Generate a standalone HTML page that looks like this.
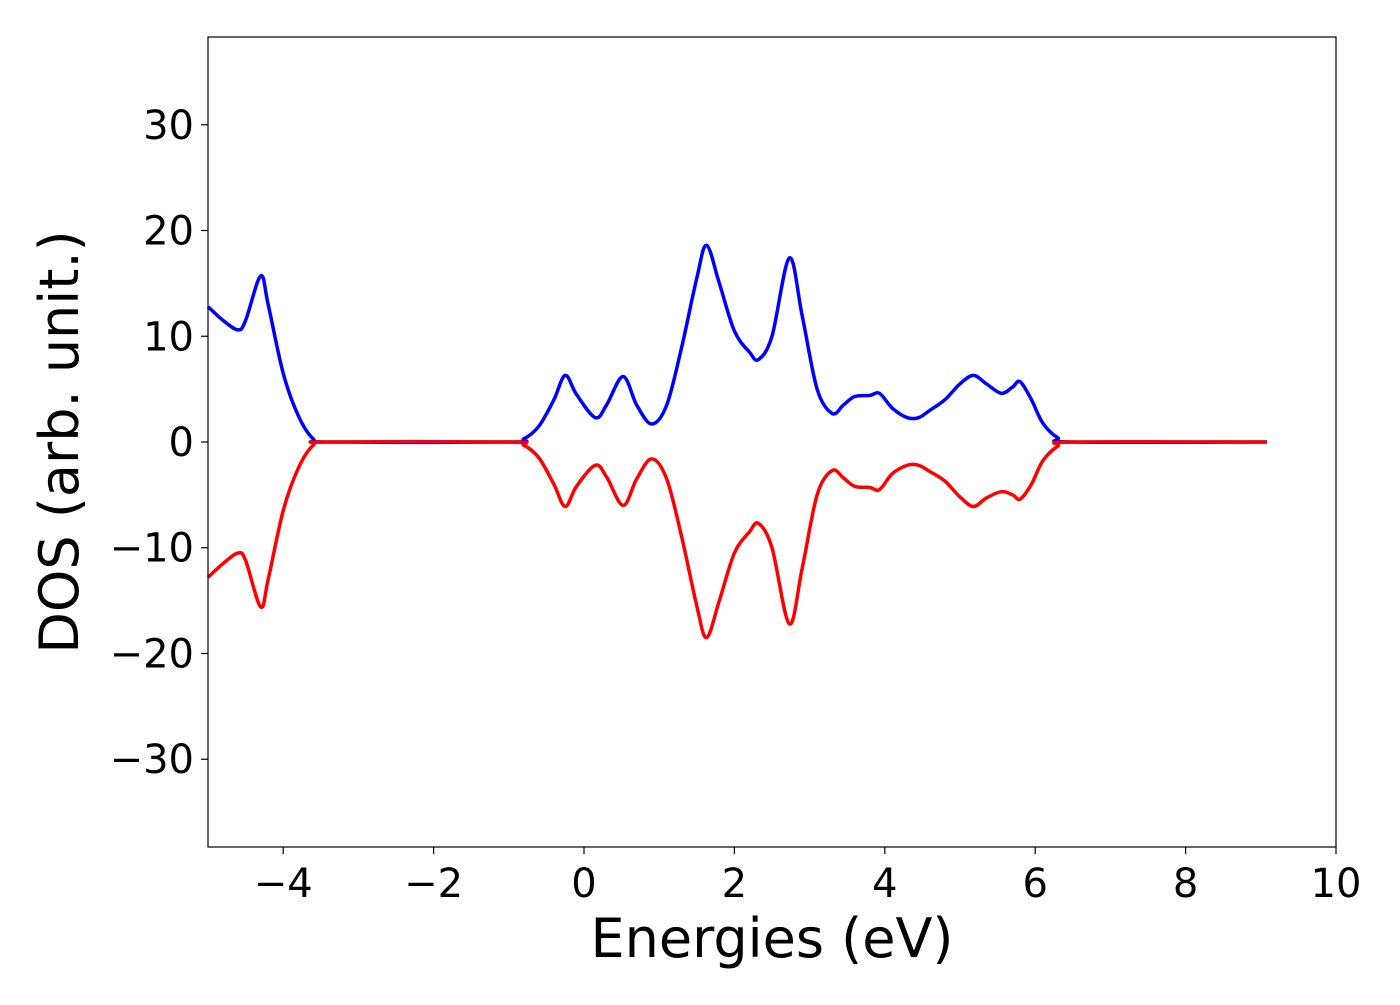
<!DOCTYPE html>
<html><head><meta charset="utf-8"><style>
body{margin:0;background:#fff;}
svg text{font-family:"DejaVu Sans","Liberation Sans",sans-serif;fill:#000;}
</style></head><body>
<svg id="chart" width="1400" height="1000" xmlns="http://www.w3.org/2000/svg">
<rect x="0" y="0" width="1400" height="1000" fill="#fff"/>
<g id="ticks"></g>
<g id="series"></g>
<rect x="208" y="37" width="1128" height="810" fill="none" stroke="#000" stroke-width="1.2"/>
<text x="772" y="957" font-size="54" text-anchor="middle">Energies (eV)</text>
<text transform="translate(78,442) rotate(-90)" font-size="54" text-anchor="middle">DOS (arb. unit.)</text>
</svg>
<script>
const xTicks=[-4,-2,0,2,4,6,8,10];
const yTicks=[-30,-20,-10,0,10,20,30];
const energies=[-5,-4.8,-4.6,-4.5,-4.3,-4.2,-4.0,-3.8,-3.6,-3.4,-1.0,-0.8,-0.6,-0.4,-0.25,-0.1,0.15,0.3,0.52,0.7,0.9,1.1,1.3,1.5,1.63,1.8,2.0,2.2,2.32,2.5,2.73,2.9,3.1,3.3,3.45,3.6,3.8,3.93,4.1,4.3,4.45,4.6,4.8,5.0,5.18,5.35,5.55,5.7,5.8,5.95,6.1,6.3,6.5,9.08];
const dosUp=[12.8,11.5,10.6,11.5,15.7,13,6.5,2.5,0.3,0,0,0.3,1.5,4,6.3,4.5,2.3,3.5,6.2,3.5,1.7,3.5,9,15.5,18.6,15,10.5,8.5,7.8,10,17.4,12,5,2.7,3.5,4.3,4.4,4.6,3.2,2.3,2.3,3,4,5.5,6.3,5.5,4.6,5.2,5.7,4,1.8,0.4,0,0];
const dosDown=[-12.8,-11.5,-10.5,-11.2,-15.6,-13,-6.5,-2.5,-0.3,0,0,-0.3,-1.5,-4,-6.1,-4.2,-2.2,-3.3,-6.0,-3.5,-1.6,-3.5,-9,-15.5,-18.5,-15,-10.5,-8.5,-7.7,-10,-17.2,-12,-5,-2.7,-3.4,-4.2,-4.3,-4.5,-3.0,-2.2,-2.2,-2.8,-3.7,-5.2,-6.1,-5.3,-4.7,-5.0,-5.4,-4,-1.8,-0.4,0,0];
const X0=208,X1=1336,Y0=847,Y1=37,xmin=-5,xmax=10,ymin=-38.3,ymax=38.3;
const sx=v=>X0+(v-xmin)/(xmax-xmin)*(X1-X0);
const sy=v=>Y0-(v-ymin)/(ymax-ymin)*(Y0-Y1);
const NS='http://www.w3.org/2000/svg';
const tg=document.getElementById('ticks');
xTicks.forEach(t=>{
  const l=document.createElementNS(NS,'line');
  
  
  l.setAttribute('x1',sx(t));l.setAttribute('x2',sx(t));l.setAttribute('y1',Y0);l.setAttribute('y2',Y0+7);l.setAttribute('stroke','#000');l.setAttribute('stroke-width','1.2');
  tg.appendChild(l);
  const tx=document.createElementNS(NS,'text');
  
  
  tx.setAttribute('x',sx(t));tx.setAttribute('y',Y0+50);tx.setAttribute('font-size','40');tx.setAttribute('text-anchor','middle');
  tx.textContent=(t<0?'\u2212':'')+Math.abs(t);
  tg.appendChild(tx);
});
yTicks.forEach(t=>{
  const l=document.createElementNS(NS,'line');
  
  
  l.setAttribute('x1',X0-7);l.setAttribute('x2',X0);l.setAttribute('y1',sy(t));l.setAttribute('y2',sy(t));l.setAttribute('stroke','#000');l.setAttribute('stroke-width','1.2');
  tg.appendChild(l);
  const tx=document.createElementNS(NS,'text');
  
  
  tx.setAttribute('x',X0-14);tx.setAttribute('y',sy(t)+14);tx.setAttribute('font-size','40');tx.setAttribute('text-anchor','end');
  tx.textContent=(t<0?'\u2212':'')+Math.abs(t);
  tg.appendChild(tx);
});
function pathD(xs,ys){
  const p=xs.map((x,i)=>[sx(x),sy(ys[i])]);
  let d='M'+p[0][0]+','+p[0][1];
  for(let i=0;i<p.length-1;i++){
    const p0=p[i-1]||p[i],p1=p[i],p2=p[i+1],p3=p[i+2]||p2;
    const t=0.5/3;
    const c1=[p1[0]+(p2[0]-p0[0])*t,p1[1]+(p2[1]-p0[1])*t];
    const c2=[p2[0]-(p3[0]-p1[0])*t,p2[1]-(p3[1]-p1[1])*t];
    d+=' C'+c1[0]+','+c1[1]+' '+c2[0]+','+c2[1]+' '+p2[0]+','+p2[1];
  }
  return d;
}
const sg=document.getElementById('series');
[[dosUp,'#0000ff','spin-up-line'],[dosDown,'#ff0000','spin-down-line']].forEach(s=>{
  const p=document.createElementNS(NS,'path');
  
  
  p.setAttribute('d',pathD(energies,s[0]));
  p.setAttribute('fill','none');p.setAttribute('stroke',s[1]);p.setAttribute('stroke-width','3.5');p.setAttribute('stroke-linejoin','round');
  sg.appendChild(p);
});
</script>
</body></html>
